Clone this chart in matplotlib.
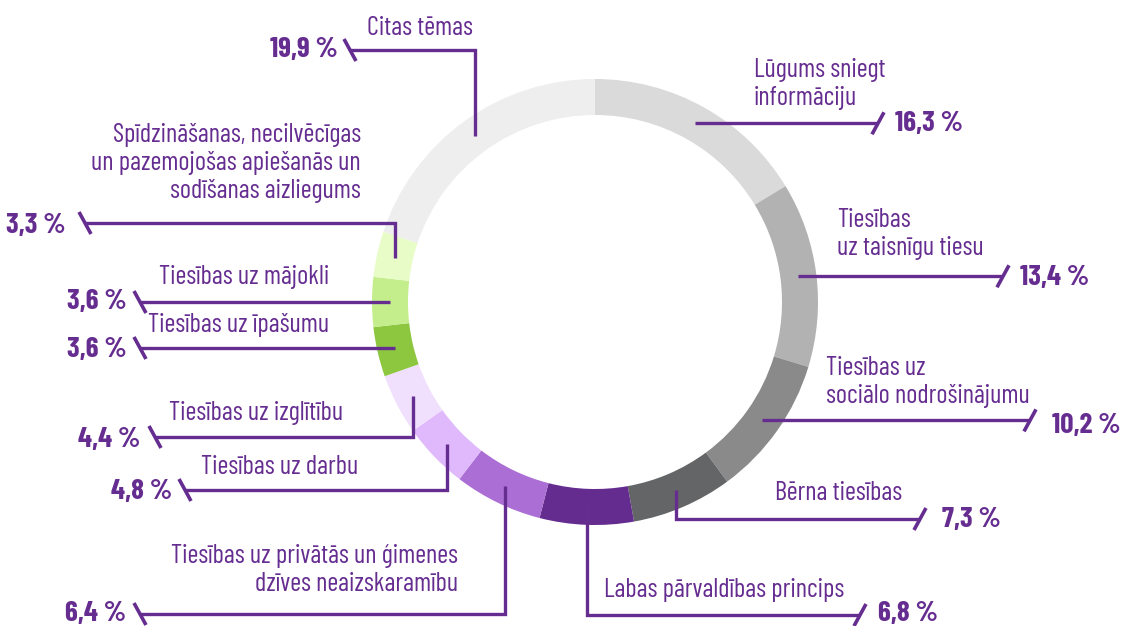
import numpy as np
import matplotlib
matplotlib.use("Agg")
import matplotlib.pyplot as plt

# ---- data ----
categories = [
    "Lūgums sniegt\ninformāciju",
    "Tiesības\nuz taisnīgu tiesu",
    "Tiesības uz\nsociālo nodrošinājumu",
    "Bērna tiesības",
    "Labas pārvaldības princips",
    "Tiesības uz privātās un ģimenes\ndzīves neaizskaramību",
    "Tiesības uz darbu",
    "Tiesības uz izglītību",
    "Tiesības uz īpašumu",
    "Tiesības uz mājokli",
    "Spīdzināšanas, necilvēcīgas\nun pazemojošas apiešanās un\nsodīšanas aizliegums",
    "Citas tēmas",
]
values = [16.3, 13.4, 10.2, 7.3, 6.8, 6.4, 4.8, 4.4, 3.6, 3.6, 3.3, 19.9]
colors = ["#dadada", "#b2b2b2", "#8a8a8a", "#646567", "#652c8f", "#ab6ed4",
          "#dfb9fb", "#f0e0fe", "#8dc63f", "#c4ee8c", "#e8fcc8", "#eeeeee"]

# ---- layout (pixel coordinates, y downward) ----
W, H = 1122, 626
CX, CY, R_OUT, RING = 595, 302, 223, 36
R_MID = R_OUT - RING / 2
# per item: side, line_y (None = horizontal from anchor), tick x,
# label (x, y, ha), pct (x, y, ha)
layout = [
    ("R", None, 878, (754, 84, "left"), (895, 124, "left")),
    ("R", None, 1003, (837, 234, "left"), (1020, 278, "left")),
    ("R", None, 1030, (826, 382, "left"), (1052, 425, "left")),
    ("R", 519, 920, (775, 493, "left"), (942, 519, "left")),
    ("R", 615, 860, (604, 590, "left"), (878, 614, "left")),
    ("L", 614, 140, (458, 570, "right"), (126, 614, "right")),
    ("L", 490, 185, (358, 467, "right"), (172, 492, "right")),
    ("L", 437, 155, (343, 413, "right"), (140, 440, "right")),
    ("L", None, 140, (329, 325, "right"), (127, 349, "right")),
    ("L", None, 140, (329, 277, "right"), (127, 302, "right")),
    ("L", 223, 85, (361, 163, "right"), (66, 226, "right")),
    ("L", 50, 350, (367, 28, "left"), (338, 50, "right")),
]

PURPLE = "#662d91"
FONT = ["Barlow Condensed", "DejaVu Sans"]

fig = plt.figure(figsize=(W / 100, H / 100), dpi=100)
ax = fig.add_axes([0, 0, 1, 1])

# donut (y axis inverted -> counterclock in data = clockwise visually)
ax.pie(values, colors=colors, radius=R_OUT, center=(CX, CY),
       startangle=-90, counterclock=True,
       wedgeprops=dict(width=RING, linewidth=0), frame=True)

ax.set_xlim(0, W)
ax.set_ylim(H, 0)
ax.set_aspect("equal")
ax.axis("off")

total = sum(values)
cum = np.cumsum([0] + values[:-1])
for i, (v, c0) in enumerate(zip(values, cum)):
    side, line_y, tick_x, lab, pct = layout[i]
    frac = (c0 + v / 2) / total
    a = 2 * np.pi * frac
    ax_x = CX + R_MID * np.sin(a)
    ax_y = CY - R_MID * np.cos(a)
    if line_y is None:
        xs = [ax_x, tick_x]
        ys = [ax_y, ax_y]
        ty = ax_y
    else:
        xs = [ax_x, ax_x, tick_x]
        ys = [ax_y, line_y, line_y]
        ty = line_y
    ax.plot(xs, ys, color=PURPLE, lw=2.4, solid_capstyle="butt",
            solid_joinstyle="miter", zorder=3)
    if side == "R":
        ax.plot([tick_x - 6, tick_x + 6], [ty + 11, ty - 11], color=PURPLE,
                lw=2.6, solid_capstyle="butt", zorder=3)
    else:
        ax.plot([tick_x - 6, tick_x + 6], [ty - 11, ty + 11], color=PURPLE,
                lw=2.6, solid_capstyle="butt", zorder=3)
    ax.text(lab[0], lab[1], categories[i], ha=lab[2], va="center",
            multialignment=lab[2], fontsize=19, color=PURPLE,
            family=FONT, fontweight="normal", linespacing=1.2)
    ax.text(pct[0], pct[1], f"{v:.1f} %".replace(".", ","), ha=pct[2],
            va="center", fontsize=21, fontweight="bold", color=PURPLE,
            family=FONT)

fig.savefig("out.png", dpi=100)
